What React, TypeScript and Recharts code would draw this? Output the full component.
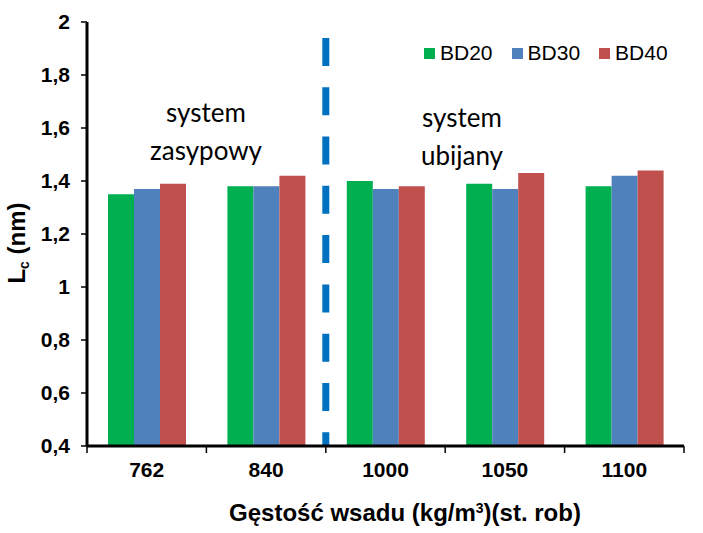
import { Bar, BarChart, ReferenceLine, XAxis, YAxis } from "recharts";

const categories = ["762", "840", "1000", "1050", "1100"];
const bd20 = [1.35, 1.38, 1.4, 1.39, 1.38];
const bd30 = [1.37, 1.38, 1.37, 1.37, 1.42];
const bd40 = [1.39, 1.42, 1.38, 1.43, 1.44];
const yTicks = [0.4, 0.6, 0.8, 1, 1.2, 1.4, 1.6, 1.8, 2];

// dashed divider sits on the left edge of the "1000" band, up to this value
const dividerCategory = "1000";
const dividerTop = 1.94;

const series = [
  { key: "BD20", values: bd20, color: "#00B050" },
  { key: "BD30", values: bd30, color: "#4F81BD" },
  { key: "BD40", values: bd40, color: "#C0504D" },
];

const data = categories.map((cat, i) => {
  const row: Record<string, string | number> = { cat };
  series.forEach((s) => (row[s.key] = s.values[i]));
  return row;
});

const W = 703;
const H = 533;
const margin = { top: 22, right: 19, bottom: 0, left: 0 };
const yAxisWidth = 87;
const xAxisHeight = 87;
const tickFont = "Arial, Liberation Sans, sans-serif";

const XTick = (props: any) => {
  const { x, y, payload, index } = props;
  const half =
    payload?.offset ?? (W - margin.left - margin.right - yAxisWidth) / categories.length / 2;
  return (
    <g>
      <line x1={x - half} x2={x - half} y1={y} y2={y + 7} stroke="#000" strokeWidth={1.5} />
      {index === categories.length - 1 && (
        <line x1={x + half} x2={x + half} y1={y} y2={y + 7} stroke="#000" strokeWidth={1.5} />
      )}
      <text
        x={x}
        y={y + 23}
        textAnchor="middle"
        dominantBaseline="central"
        style={{ fontFamily: tickFont, fontWeight: "bold", fontSize: 21 }}
        fill="#000"
      >
        {payload.value}
      </text>
    </g>
  );
};

const note = {
  position: "absolute" as const,
  width: 200,
  textAlign: "center" as const,
  fontFamily: "Lato, sans-serif",
  fontSize: 26,
  lineHeight: "38px",
  color: "#000",
};

export default function App() {
  return (
    <div style={{ position: "absolute", left: 0, top: 0, width: W, height: H, background: "#fff" }}>
      <BarChart width={W} height={H} data={data} margin={margin} barGap={0} barSize={26}>
        <XAxis
          dataKey="cat"
          height={xAxisHeight}
          tickLine={false}
          tickSize={0}
          tickMargin={0}
          axisLine={{ stroke: "#000", strokeWidth: 3 }}
          tick={<XTick />}
          interval={0}
        />
        <XAxis
          xAxisId="top"
          dataKey="cat"
          orientation="top"
          height={0}
          tick={false}
          tickLine={false}
          axisLine={{ stroke: "#000", strokeWidth: 3 }}
        />
        <YAxis
          width={yAxisWidth}
          domain={[0.4, 2]}
          ticks={yTicks}
          interval={0}
          allowDataOverflow
          tickSize={6}
          tickMargin={11}
          tickFormatter={(v) => String(v).replace(".", ",")}
          tick={{ style: { fontFamily: tickFont, fontWeight: "bold", fontSize: 21 }, fill: "#000" }}
          tickLine={{ stroke: "#000", strokeWidth: 1.5 }}
          axisLine={{ stroke: "#000", strokeWidth: 3 }}
        />
        <YAxis
          yAxisId="right"
          orientation="right"
          width={0}
          domain={[0.4, 2]}
          tick={false}
          tickLine={false}
          axisLine={{ stroke: "#000", strokeWidth: 3 }}
        />
        {series.map((s) => (
          <Bar key={s.key} dataKey={s.key} fill={s.color} isAnimationActive={false} />
        ))}
        <ReferenceLine
          position="start"
          segment={[
            { x: dividerCategory, y: dividerTop },
            { x: dividerCategory, y: 0.4 },
          ]}
          stroke="#0070C0"
          strokeWidth={7}
          strokeDasharray="28 21.3"
        />
      </BarChart>

      <div style={{ ...note, left: 106, top: 93 }}>
        system
        <br />
        zasypowy
      </div>
      <div style={{ ...note, left: 362, top: 98 }}>
        system
        <br />
        ubijany
      </div>

      <div
        style={{
          position: "absolute",
          left: 424,
          top: 41,
          display: "flex",
          alignItems: "center",
          fontFamily: tickFont,
          fontSize: 21,
          lineHeight: "24px",
        }}
      >
        {series.map((s) => (
          <div key={s.key} style={{ display: "flex", alignItems: "center", marginRight: 19 }}>
            <span style={{ width: 11, height: 11, background: s.color, marginRight: 5 }} />
            <span>{s.key}</span>
          </div>
        ))}
      </div>

      <div
        style={{
          position: "absolute",
          left: 17 - 100,
          top: 243 - 16,
          width: 200,
          height: 32,
          lineHeight: "32px",
          textAlign: "center",
          transform: "rotate(-90deg)",
          fontFamily: tickFont,
          fontWeight: "bold",
          fontSize: 24,
        }}
      >
        L<sub style={{ fontSize: 14, verticalAlign: "-4px" }}>c</sub> (nm)
      </div>

      <div
        style={{
          position: "absolute",
          left: 405 - 250,
          top: 508 - 15,
          width: 500,
          lineHeight: "30px",
          textAlign: "center",
          fontFamily: tickFont,
          fontWeight: "bold",
          fontSize: 24,
        }}
      >
        Gęstość wsadu (kg/m<sup style={{ fontSize: 14, verticalAlign: "8px" }}>3</sup>)(st. rob)
      </div>
    </div>
  );
}
